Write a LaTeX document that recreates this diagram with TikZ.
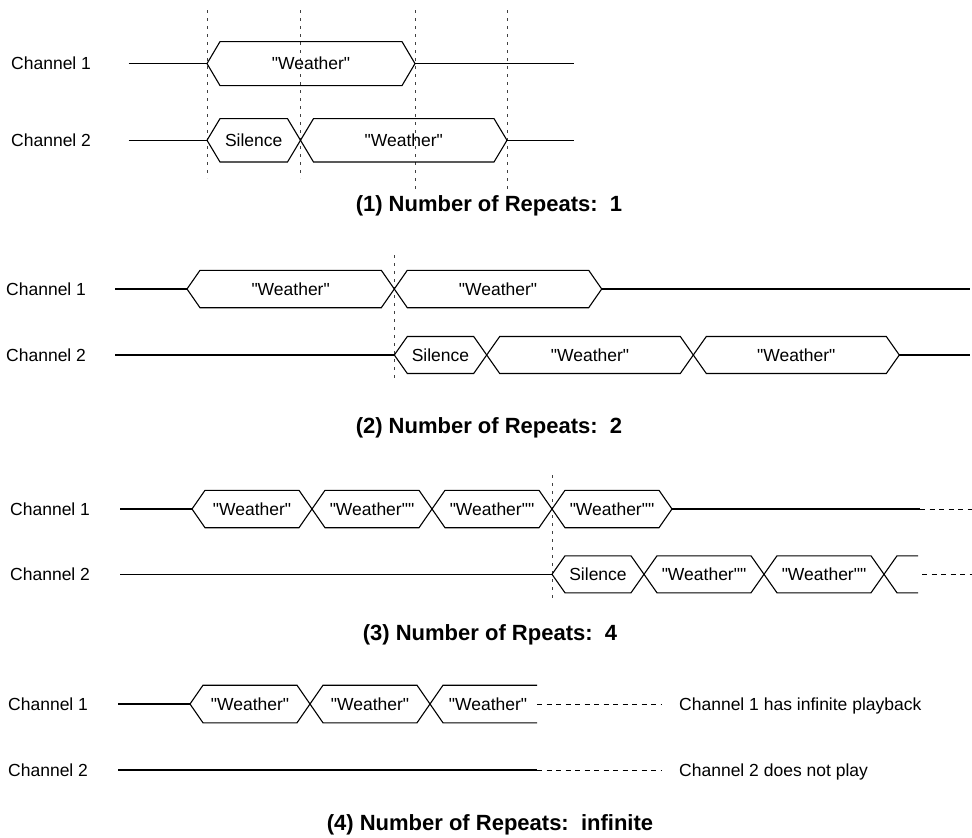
\documentclass[tikz,border=0pt]{standalone}
\usepackage{fontspec}
\newfontfamily\lsans{Liberation Sans}
\newcommand\hexbox[6]{% name, xL, xR, y, half height, text
  \draw[wire] (#2,#4) -- ({#2+13},{#4-#5}) -- ({#3-13},{#4-#5}) -- (#3,#4) -- ({#3-13},{#4+#5}) -- ({#2+13},{#4+#5}) -- cycle;
  \node[boxtext] (#1) at ({(#2+#3)/2},{#4+6.3}) {#6};}
\begin{document}
\begin{tikzpicture}[x=1pt,y=-1pt,
  wire/.style={line width=1.1pt, line join=miter},
  vguide/.style={line width=0.6pt, black!75, dash pattern=on 3pt off 5pt},
  cont/.style={line width=1pt, dash pattern=on 5pt off 4.5pt},
  lab/.style={font=\lsans\fontsize{17.5}{20}\selectfont, anchor=base west, inner sep=0pt},
  boxtext/.style={font=\lsans\fontsize{17.5}{20}\selectfont, anchor=base, inner sep=0pt},
  title/.style={font=\lsans\bfseries\fontsize{22}{26}\selectfont, anchor=base, inner sep=0pt}]
\useasboundingbox (0,0) rectangle (972,838);

% ---------- Section 1 ----------
\draw[vguide] (207,10) -- (207,178);
\draw[vguide] (300.5,10) -- (300.5,178);
\draw[vguide] (415,10) -- (415,190);
\draw[vguide] (507,10) -- (507,190);
\node[lab] (s1c1) at (11,69.9) {Channel 1};
\node[lab] (s1c2) at (11,146.6) {Channel 2};
\draw[wire] (128.5,63.6) -- (207,63.6);
\hexbox{s1w1}{207}{415}{63.6}{22}{"Weather"}
\draw[wire] (415,63.6) -- (574,63.6);
\draw[wire] (128.5,140.3) -- (207,140.3);
\hexbox{s1s}{207}{300.5}{140.3}{21.7}{Silence}
\hexbox{s1w2}{300.5}{507}{140.3}{21.7}{"Weather"}
\draw[wire] (507,140.3) -- (574,140.3);
\node[title] (t1) at (489,211) {(1) Number of Repeats:\ \ 1};

% ---------- Section 2 ----------
\draw[vguide] (394.3,255) -- (394.3,380);
\node[lab] (s2c1) at (6,295.3) {Channel 1};
\node[lab] (s2c2) at (6,361.3) {Channel 2};
\draw[wire] (115,289) -- (187,289);
\hexbox{s2a1}{187}{394.3}{289}{18.7}{"Weather"}
\hexbox{s2a2}{394.3}{601.7}{289}{18.7}{"Weather"}
\draw[wire] (601.7,289) -- (970,289);
\draw[wire] (115,355) -- (394.3,355);
\hexbox{s2b1}{394.3}{486.7}{355}{18.5}{Silence}
\hexbox{s2b2}{486.7}{693.3}{355}{18.5}{"Weather"}
\hexbox{s2b3}{693.3}{899.3}{355}{18.5}{"Weather"}
\draw[wire] (899.3,355) -- (970,355);
\node[title] (t2) at (489,433) {(2) Number of Repeats:\ \ 2};

% ---------- Section 3 ----------
\draw[vguide] (552,475) -- (552,600);
\node[lab] (s3c1) at (10,515.3) {Channel 1};
\node[lab] (s3c2) at (10,580.6) {Channel 2};
\draw[wire] (120,509) -- (192,509);
\hexbox{s3a1}{192}{312}{509}{18.7}{"Weather"}
\hexbox{s3a2}{312}{432}{509}{18.7}{"Weather""}
\hexbox{s3a3}{432}{552}{509}{18.7}{"Weather""}
\hexbox{s3a4}{552}{672}{509}{18.7}{"Weather""}
\draw[wire] (672,509) -- (920,509);
\draw[cont] (920,509) -- (972,509);
\draw[wire] (120,574.3) -- (552,574.3);
\hexbox{s3b1}{552}{644}{574.3}{18.5}{Silence}
\hexbox{s3b2}{644}{764}{574.3}{18.5}{"Weather""}
\hexbox{s3b3}{764}{884}{574.3}{18.5}{"Weather""}
\draw[wire] (918,555.8) -- (897,555.8) -- (884,574.3) -- (897,592.8) -- (918,592.8);
\draw[cont] (922,574.3) -- (972,574.3);
\node[title] (t3) at (490,640) {(3) Number of Rpeats:\ \ 4};

% ---------- Section 4 ----------
\node[lab] (s4c1) at (8,710.3) {Channel 1};
\node[lab] (s4c2) at (8,776.3) {Channel 2};
\draw[wire] (118,704) -- (190,704);
\hexbox{s4a1}{190}{310}{704}{18.8}{"Weather"}
\hexbox{s4a2}{310}{430}{704}{18.8}{"Weather"}
\draw[wire] (537,685.2) -- (443,685.2) -- (430,704) -- (443,722.8) -- (537,722.8);
\node[boxtext] (s4a3) at (488,710.3) {"Weather"};
\draw[cont] (537,704) -- (662,704);
\node[lab] (n1) at (679,710.3) {Channel 1 has infinite playback};
\draw[wire] (118,770) -- (537,770);
\draw[cont] (537,770) -- (662,770);
\node[lab] (n2) at (679,776.3) {Channel 2 does not play};
\node[title] (t4) at (490,830) {(4) Number of Repeats:\ \ infinite};
\end{tikzpicture}
\end{document}
